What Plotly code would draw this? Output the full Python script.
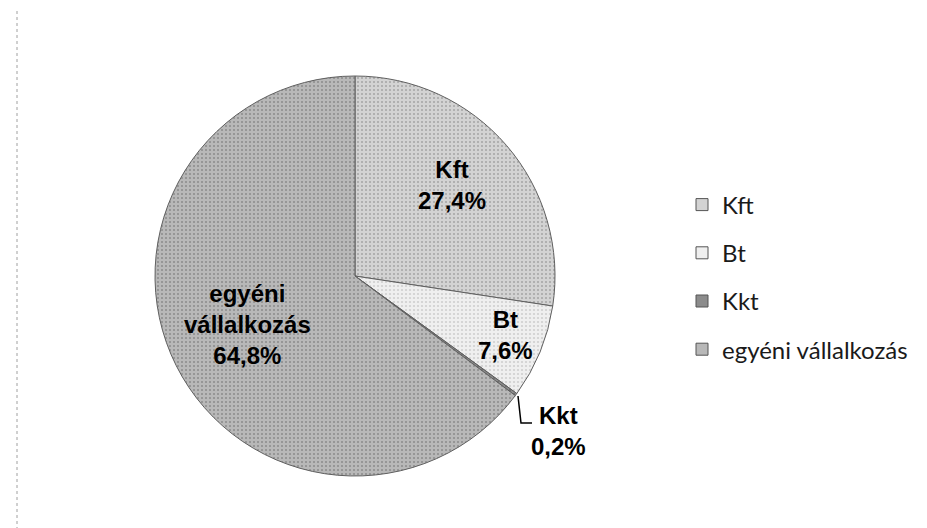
import plotly.graph_objects as go

labels = ["Kft", "Bt", "Kkt", "egyéni vállalkozás"]
values = [27.4, 7.6, 0.2, 64.8]
label_text = ["Kft", "Bt", "Kkt", "egyéni<br>vállalkozás"]
colors = ["#d3d3d3", "#efefef", "#8c8c8c", "#b8b8b8"]
fg_colors = ["#a8a8a8", "#cfcfcf", "#6a6a6a", "#8e8e8e"]

W, H = 927, 528
# label block centres (pixels) – layout only
label_pos = [(444, 177), (497, 327), (550, 423), (240, 316)]

def px(x):
    return x / W

def py(y):
    return 1 - y / H

fig = go.Figure()
fig.add_trace(go.Pie(
    labels=labels,
    values=values,
    sort=False,
    direction="clockwise",
    rotation=0,
    marker=dict(colors=colors,
                line=dict(color="#5f5f5f", width=1),
                pattern=dict(shape=".", fgcolor=fg_colors, bgcolor=colors,
                             size=4, solidity=0.22)),
    textinfo="none",
    domain=dict(x=[px(147), px(547)], y=[py(468), py(68)]),
    hoverinfo="label+percent",
    showlegend=False,
))

# legend entries
for lab, col in zip(labels, colors):
    fig.add_trace(go.Scatter(
        x=[None], y=[None], mode="markers", name=lab, legendgroup=lab,
        marker=dict(symbol="square", size=12, color=col,
                    line=dict(color="#555555", width=1)),
        showlegend=True, hoverinfo="skip",
    ))

total = sum(values)
annotations = []
for txt, v, (x, y) in zip(label_text, values, label_pos):
    pct = f"{v / total * 100:.1f}".replace(".", ",") + "%"
    annotations.append(dict(
        x=px(x), y=py(y), xref="paper", yref="paper",
        text=f"<b>{txt}<br>{pct}</b>", showarrow=False,
        xanchor="center", yanchor="middle", align="center",
        font=dict(family="Liberation Sans", size=24, color="black"),
    ))

fig.update_layout(
    width=W, height=H,
    margin=dict(l=0, r=0, t=0, b=0),
    paper_bgcolor="white", plot_bgcolor="white",
    separators=",.",
    xaxis=dict(visible=False), yaxis=dict(visible=False),
    legend=dict(x=px(674), y=py(269), yanchor="middle", xanchor="left",
                font=dict(family="Lato", size=24, color="#1a1a1a"),
                tracegroupgap=14, bgcolor="rgba(0,0,0,0)"),
    annotations=annotations,
    shapes=[
        dict(type="line", xref="paper", yref="paper", x0=px(9), x1=px(9), y0=0, y1=1,
             line=dict(color="#a0a0a0", width=1, dash="dot")),
        # leader line for Kkt label
        dict(type="path", xref="paper", yref="paper",
             path=f"M {px(510)},{py(388)} L {px(513)},{py(415)} L {px(524)},{py(415)}",
             line=dict(color="black", width=1.5)),
    ],
)

fig.write_html("out.html")
